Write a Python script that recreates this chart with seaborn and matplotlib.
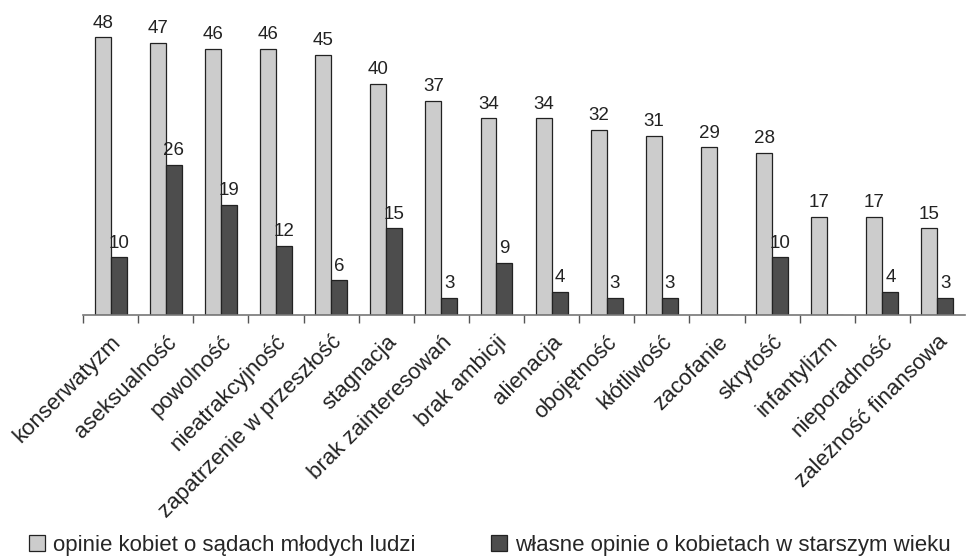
import pandas as pd
import matplotlib.pyplot as plt
import seaborn as sns

# Data
categories = ['konserwatyzm', 'aseksualność', 'powolność', 'nieatrakcyjność',
              'zapatrzenie w przeszłość', 'stagnacja', 'brak zainteresowań',
              'brak ambicji', 'alienacja', 'obojętność', 'kłótliwość',
              'zacofanie', 'skrytość', 'infantylizm', 'nieporadność',
              'zależność finansowa']
young_opinions = [48, 47, 46, 46, 45, 40, 37, 34, 34, 32, 31, 29, 28, 17, 17, 15]
own_opinions = [10, 26, 19, 12, 6, 15, 3, 9, 4, 3, 3, 0, 10, 0, 4, 3]
series_names = ['opinie kobiet o sądach młodych ludzi',
                'własne opinie o kobietach w starszym wieku']

df = pd.DataFrame({
    'cecha': categories * 2,
    'wartosc': young_opinions + own_opinions,
    'seria': [series_names[0]] * len(categories) + [series_names[1]] * len(categories),
})

sns.set_style('white')
plt.rcParams['font.family'] = ['Liberation Sans', 'DejaVu Sans']

fig = plt.figure(figsize=(9.66, 5.58), dpi=100)
ax = fig.add_axes([0.086, 0.4355, 0.913, 0.56])

sns.barplot(data=df, x='cecha', y='wartosc', hue='seria',
            palette=['#cccccc', '#4d4d4d'], width=0.58, gap=0,
            edgecolor='#222222', linewidth=0.9, ax=ax, legend=False)

for cont in ax.containers:
    labels = [f'{v:.0f}' if v > 0 else '' for v in cont.datavalues]
    ax.bar_label(cont, labels=labels, padding=4, fontsize=13.5, color='#222222')

ax.set_ylim(0, 54)
ax.set_xlim(-0.5, len(categories) - 0.5)
ax.set_xlabel('')
ax.set_ylabel('')
ax.set_yticks([])
for s in ['top', 'right', 'left']:
    ax.spines[s].set_visible(False)
ax.spines['bottom'].set_color('#777777')
ax.spines['bottom'].set_linewidth(1.2)

# ticks at category boundaries, labels at centres
ax.set_xticks([i - 0.5 for i in range(len(categories))], minor=True)
ax.set_xticks(range(len(categories)))
ax.tick_params(axis='x', which='minor', length=6, width=1, color='#555555', direction='out', bottom=True)
ax.tick_params(axis='x', which='major', length=0, pad=12)
ax.set_xticklabels(categories, rotation=45, ha='right', rotation_mode='anchor',
                   fontsize=16, color='#222222')

handles = [plt.Rectangle((0, 0), 1, 1, facecolor=c, edgecolor='#222222', linewidth=0.9)
           for c in ['#cccccc', '#4d4d4d']]
fig.legend(handles, series_names, loc='lower center', bbox_to_anchor=(0.507, -0.032),
           ncol=2, frameon=False, fontsize=16, handlelength=0.72, handleheight=0.72,
           handletextpad=0.36, columnspacing=3.4)

fig.savefig('out.png', dpi=100)
